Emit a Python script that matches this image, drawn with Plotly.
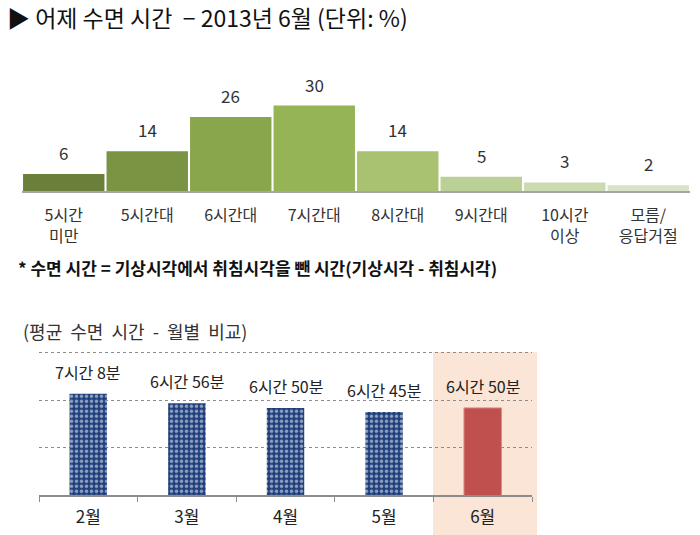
import plotly.graph_objects as go

# ---- data ----
sleep_cats = ["5시간<br>미만", "5시간대", "6시간대", "7시간대", "8시간대", "9시간대", "10시간<br>이상", "모름/<br>응답거절"]
sleep_pct = [6, 14, 26, 30, 14, 5, 3, 2]
sleep_colors = ["#6a7f3a", "#7b9443", "#89a64d", "#95b455", "#a8c272", "#bbd096", "#ccdab2", "#d9e3c8"]

months = ["2월", "3월", "4월", "5월", "6월"]
avg_hours = [7, 6, 6, 6, 6]
avg_minutes = [8, 56, 50, 45, 50]
grid_hours = [6, 7, 8]

W, H = 700, 535
FONT = "Noto Sans CJK KR"

def px_x(x):
    return x / W

def px_y(y):
    return (H - y) / H

avg_val = [h + m / 60 for h, m in zip(avg_hours, avg_minutes)]
avg_lbl = [f"{h}시간 {m}분" for h, m in zip(avg_hours, avg_minutes)]

fig = go.Figure()

# top chart
fig.add_trace(go.Bar(
    x=sleep_cats, y=sleep_pct, width=0.975,
    marker=dict(color=sleep_colors, line=dict(width=0)),
    xaxis="x", yaxis="y", hoverinfo="skip", showlegend=False,
))

# bottom chart: patterned bars for Feb-May, solid red for June
fig.add_trace(go.Bar(
    x=months[:4], y=avg_val[:4], width=0.38, base=0,
    marker=dict(color="#1f3f7c", line=dict(width=0),
                pattern=dict(shape=".", fgcolor="#ffffff", bgcolor="#1f3f7c", size=5, solidity=0.4)),
    xaxis="x2", yaxis="y2", hoverinfo="skip", showlegend=False,
))
fig.add_trace(go.Bar(
    x=months[4:], y=avg_val[4:], width=0.38, base=0,
    marker=dict(color="#c0504d", line=dict(width=1, color="#d98a88")),
    xaxis="x2", yaxis="y2", hoverinfo="skip", showlegend=False,
))

annotations = []
for c, v in zip(sleep_cats, sleep_pct):
    annotations.append(dict(x=c, y=v, xref="x", yref="y", text=str(v), showarrow=False,
                            yanchor="bottom", yshift=7, font=dict(family=FONT, size=17, color="#333333")))
for c, v, t in zip(months, avg_val, avg_lbl):
    annotations.append(dict(x=c, y=v, xref="x2", yref="y2", text=t, showarrow=False,
                            yanchor="bottom", yshift=8, font=dict(family=FONT, size=16, color="#222222")))

annotations += [
    dict(text="▶ 어제 수면 시간  − 2013년 6월 (단위: %)", x=px_x(5), y=px_y(17), xref="paper", yref="paper",
         xanchor="left", yanchor="middle", showarrow=False, font=dict(family=FONT, size=23, color="#111111")),
    dict(text="<b>* 수면 시간 = 기상시각에서 취침시각을 뺀 시간(기상시각 - 취침시각)</b>", x=px_x(16), y=px_y(267),
         xref="paper", yref="paper", xanchor="left", yanchor="middle", showarrow=False,
         font=dict(family=FONT, size=17, color="#111111")),
    dict(text="(평균  수면  시간  -  월별  비교)", x=px_x(21), y=px_y(331), xref="paper", yref="paper",
         xanchor="left", yanchor="middle", showarrow=False, font=dict(family=FONT, size=18, color="#333333")),
]

shapes = [
    dict(type="rect", xref="paper", yref="paper", x0=px_x(433), x1=px_x(537), y0=0, y1=px_y(352),
         fillcolor="#fbe5d6", line=dict(width=0), layer="below"),
    # top gridline (no bar reaches it), drawn above to ensure visibility
    dict(type="line", xref="paper", yref="y2", x0=px_x(39), x1=px_x(532), y0=grid_hours[-1], y1=grid_hours[-1],
         line=dict(color="#8c8c8c", width=1, dash="dot"), layer="above"),
]

fig.update_layout(
    width=W, height=H, margin=dict(l=0, r=0, t=0, b=0),
    paper_bgcolor="white", plot_bgcolor="rgba(0,0,0,0)",
    font=dict(family=FONT),
    annotations=annotations, shapes=shapes,
    xaxis=dict(domain=[px_x(22), px_x(690)], showline=True, linecolor="#a6a6a6", linewidth=2,
               ticks="", showgrid=False, tickfont=dict(size=16, color="#333333"), fixedrange=True,
               anchor="y", ticklabelstandoff=9),
    yaxis=dict(domain=[px_y(191), px_y(60)], range=[0, 46], visible=False, fixedrange=True),
    xaxis2=dict(domain=[px_x(39), px_x(532)], showline=True, linecolor="#8c8c8c", linewidth=1.5,
                ticks="outside", ticklen=5, tickcolor="#8c8c8c", tickson="boundaries",
                showgrid=False, tickfont=dict(size=17, color="#222222"), anchor="y2", fixedrange=True,
                ticklabelstandoff=6),
    yaxis2=dict(domain=[px_y(495), px_y(328.75)], range=[5, 8.5], tickvals=grid_hours[:-1],
                showgrid=True, gridcolor="#8c8c8c", griddash="dot", gridwidth=1,
                showticklabels=False, ticks="", zeroline=False, anchor="x2", fixedrange=True),
)

fig.write_html("out.html")
